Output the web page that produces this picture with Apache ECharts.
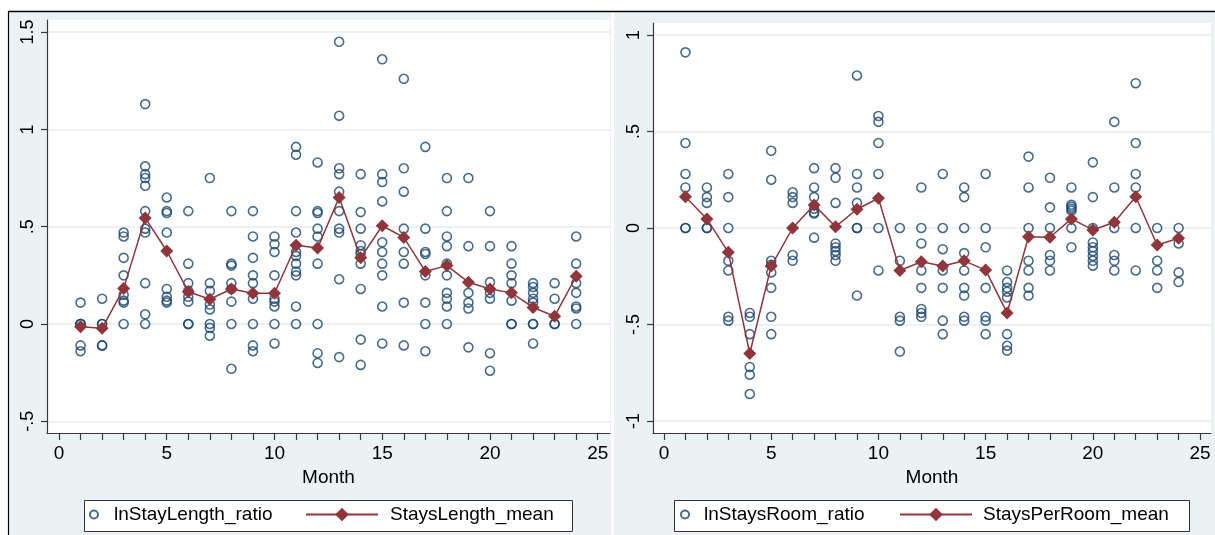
<!DOCTYPE html>
<html><head><meta charset="utf-8">
<script src="https://cdn.jsdelivr.net/npm/echarts@6/dist/echarts.min.js"></script>
<style>
html,body{margin:0;padding:0;background:#fff;}
#chart{width:1215px;height:535px;}
</style></head><body>
<div id="chart"></div>
<script>
const months = [1,2,3,4,5,6,7,8,9,10,11,12,13,14,15,16,17,18,19,20,21,22,23,24];
const xTickValues = [0,1,2,3,4,5,6,7,8,9,10,11,12,13,14,15,16,17,18,19,20,21,22,23,24,25];
const xLabelValues = [0,5,10,15,20,25];
const yTicksLeft = [-0.5,0,0.5,1,1.5];
const yTicksRight = [-1,-0.5,0,0.5,1];

const stayLengthRatio = [
  [0.11,0,0,0,-0.11,-0.14],
  [0.13,0,0,-0.11,-0.11],
  [0.47,0.45,0.34,0.25,0.15,0.12,0.11,0],
  [1.13,0.81,0.77,0.75,0.71,0.58,0.49,0.47,0.21,0.05,0],
  [0.65,0.58,0.57,0.47,0.18,0.14,0.12,0.11],
  [0.58,0.31,0.21,0.17,0.14,0.115,0,0],
  [0.75,0.21,0.17,0.10,0.075,0,-0.02,-0.06],
  [0.58,0.31,0.30,0.21,0.18,0.115,0,-0.23],
  [0.58,0.45,0.34,0.25,0.21,0.13,0,-0.11,-0.14],
  [0.45,0.41,0.37,0.25,0.13,0.115,0.09,0,-0.10],
  [0.91,0.87,0.58,0.47,0.37,0.35,0.31,0.27,0.25,0.09,0],
  [0.83,0.58,0.57,0.49,0.45,0.31,0,-0.15,-0.20],
  [1.45,1.07,0.80,0.77,0.68,0.58,0.49,0.47,0.23,-0.17],
  [0.77,0.575,0.49,0.405,0.375,0.36,0.31,0.18,-0.08,-0.21],
  [1.36,0.77,0.73,0.63,0.42,0.37,0.31,0.25,0.09,-0.10],
  [1.26,0.80,0.68,0.49,0.37,0.31,0.11,-0.11],
  [0.91,0.49,0.37,0.36,0.25,0.11,0,-0.14],
  [0.75,0.58,0.45,0.40,0.31,0.25,0.16,0.13,0.09,0],
  [0.75,0.40,0.16,0.11,0.08,-0.12],
  [0.58,0.40,0.215,0.16,0.13,-0.15,-0.24],
  [0.40,0.31,0.25,0.21,0.12,0,0],
  [0.21,0.19,0.16,0.13,0.11,0,0,-0.10],
  [0.21,0.13,0,0],
  [0.45,0.31,0.21,0.16,0.09,0.08,0]
];
const staysLengthMean = [-0.014,-0.022,0.183,0.545,0.375,0.166,0.127,0.18,0.158,0.158,0.405,0.39,0.65,0.34,0.505,0.445,0.27,0.30,0.215,0.18,0.16,0.085,0.04,0.245];

const staysRoomRatio = [
  [0.91,0.44,0.28,0.21,0,0],
  [0.21,0.16,0.13,0,0],
  [0.28,0.16,0,-0.17,-0.22,-0.46,-0.48],
  [-0.44,-0.46,-0.55,-0.72,-0.76,-0.86],
  [0.40,0.25,-0.17,-0.19,-0.23,-0.31,-0.46,-0.55],
  [0.185,0.16,0.13,-0.14,-0.17],
  [0.31,0.21,0.16,0.10,0.08,0.075,-0.05],
  [0.31,0.26,0.13,-0.08,-0.10,-0.12,-0.14,-0.17],
  [0.79,0.28,0.21,0.13,0,0,-0.35],
  [0.58,0.55,0.44,0.28,0,-0.22],
  [0,-0.17,-0.46,-0.48,-0.64],
  [0.21,0,-0.08,-0.22,-0.31,-0.42,-0.44,-0.46],
  [0.28,0,-0.11,-0.22,-0.31,-0.48,-0.55],
  [0.21,0.16,0,-0.13,-0.22,-0.31,-0.35,-0.46,-0.48],
  [0.28,0,-0.10,-0.31,-0.46,-0.48,-0.55],
  [-0.22,-0.28,-0.31,-0.33,-0.36,-0.55,-0.61,-0.635],
  [0.37,0.21,0,-0.17,-0.22,-0.31,-0.35],
  [0.26,0.107,0,-0.14,-0.17,-0.22],
  [0.21,0.12,0.11,0.10,0.09,0,-0.10],
  [0.34,0.16,0,-0.075,-0.10,-0.12,-0.145,-0.17,-0.195],
  [0.55,0.21,0,-0.14,-0.17,-0.22],
  [0.75,0.44,0.28,0.21,0,-0.22],
  [0,-0.17,-0.22,-0.31],
  [0,-0.08,-0.23,-0.28]
];
const staysPerRoomMean = [0.162,0.047,-0.126,-0.65,-0.197,0.0,0.119,0.007,0.097,0.154,-0.22,-0.175,-0.197,-0.17,-0.218,-0.44,-0.045,-0.048,0.047,-0.01,0.03,0.162,-0.088,-0.053];

const FONT = 'Liberation Sans, Arial, Helvetica, sans-serif';
const BLUE = '#1A476F';
const RED = '#90353B';
const BG = '#EAF2F3';
const GRIDC = '#E6EEF0';
const AX = '#3a3a3a';

function fmt(v){ const s = String(Math.round(v*100)/100); return s.replace(/^(-?)0\./,'$1.'); }
function pairs(arr){ const out=[]; months.forEach((m,i)=>arr[i].forEach(v=>out.push([m,v]))); return out; }

function xAxis(gi, min, max){
  return {type:'value', gridIndex:gi, min:min, max:max,
    axisLine:{show:true, onZero:false, lineStyle:{color:AX, width:1.2}},
    axisTick:{show:true, length:7, customValues:xTickValues, lineStyle:{color:AX, width:1.2}},
    axisLabel:{customValues:xLabelValues, fontSize:19, color:'#000', margin:11, fontFamily:FONT},
    splitLine:{show:false},
    name:'Month', nameLocation:'middle', nameGap:31,
    nameTextStyle:{fontSize:19, color:'#000', fontFamily:FONT}};
}
function yAxis(gi, min, max, ticks){
  return {type:'value', gridIndex:gi, min:min, max:max,
    axisLine:{show:true, onZero:false, lineStyle:{color:AX, width:1.2}},
    axisTick:{show:true, length:6, customValues:ticks, lineStyle:{color:AX, width:1.2}},
    axisLabel:{customValues:ticks, rotate:90, formatter:fmt, fontSize:18, color:'#000', margin:10, fontFamily:FONT},
    splitLine:{show:true, lineStyle:{color:GRIDC, width:1.6}}};
}
function scatter(name, gi, arr){
  return {name:name, type:'scatter', xAxisIndex:gi, yAxisIndex:gi, data:pairs(arr),
    symbol:'circle', symbolSize:9,
    itemStyle:{color:'rgba(0,0,0,0)', borderColor:BLUE, borderWidth:1.6}, z:2};
}
function meanLine(name, gi, arr){
  return {name:name, type:'line', xAxisIndex:gi, yAxisIndex:gi,
    data:months.map((m,i)=>[m,arr[i]]), symbol:'diamond', symbolSize:13, showSymbol:true,
    lineStyle:{color:RED, width:1.5}, itemStyle:{color:RED}, z:3};
}
function legend(left, name, w, h, pad){
  return {left:left, top:505, padding:0, itemWidth:w, itemHeight:h, data:[name], selectedMode:false,
    textStyle:{fontSize:19, color:'#000', fontFamily:FONT, padding:[0,0,0,pad]}};
}

const chart = echarts.init(document.getElementById('chart'));
chart.setOption({
  animation:false,
  backgroundColor:'#fff',
  graphic:[
    {type:'rect', z:-10, shape:{x:9, y:12.5, width:602, height:523}, style:{fill:BG}},
    {type:'rect', z:-10, shape:{x:614, y:12.5, width:601, height:523}, style:{fill:BG}},
    {type:'rect', z:-9, shape:{x:47, y:20, width:563, height:413}, style:{fill:'#fff'}},
    {type:'rect', z:-9, shape:{x:653, y:23, width:558, height:410}, style:{fill:'#fff'}},
    {type:'line', z:-8, shape:{x1:8, y1:11.5, x2:1215, y2:11.5}, style:{stroke:'#000', lineWidth:1.5}},
    {type:'line', z:-8, shape:{x1:8.5, y1:11, x2:8.5, y2:535}, style:{stroke:'#000', lineWidth:1.2}},
    {type:'rect', z:-1, shape:{x:84.5, y:500.5, width:488, height:31}, style:{fill:'#fff', stroke:'#333', lineWidth:1}},
    {type:'rect', z:-1, shape:{x:674.5, y:500.5, width:515, height:31}, style:{fill:'#fff', stroke:'#333', lineWidth:1}}
  ],
  grid:[
    {left:47, top:20, width:563, height:413},
    {left:653, top:23, width:558, height:410}
  ],
  xAxis:[xAxis(0, -0.557, 25.57), xAxis(1, -0.513, 25.51)],
  yAxis:[yAxis(0, -0.56, 1.562, yTicksLeft), yAxis(1, -1.062, 1.062, yTicksRight)],
  legend:[
    legend(89, 'lnStayLength_ratio', 8, 8, 11),
    legend(305, 'StaysLength_mean', 72, 17, 7),
    legend(680, 'lnStaysRoom_ratio', 8, 8, 10),
    legend(899, 'StaysPerRoom_mean', 72, 17, 6)
  ],
  series:[
    scatter('lnStayLength_ratio', 0, stayLengthRatio),
    meanLine('StaysLength_mean', 0, staysLengthMean),
    scatter('lnStaysRoom_ratio', 1, staysRoomRatio),
    meanLine('StaysPerRoom_mean', 1, staysPerRoomMean)
  ]
});
</script>
</body></html>
